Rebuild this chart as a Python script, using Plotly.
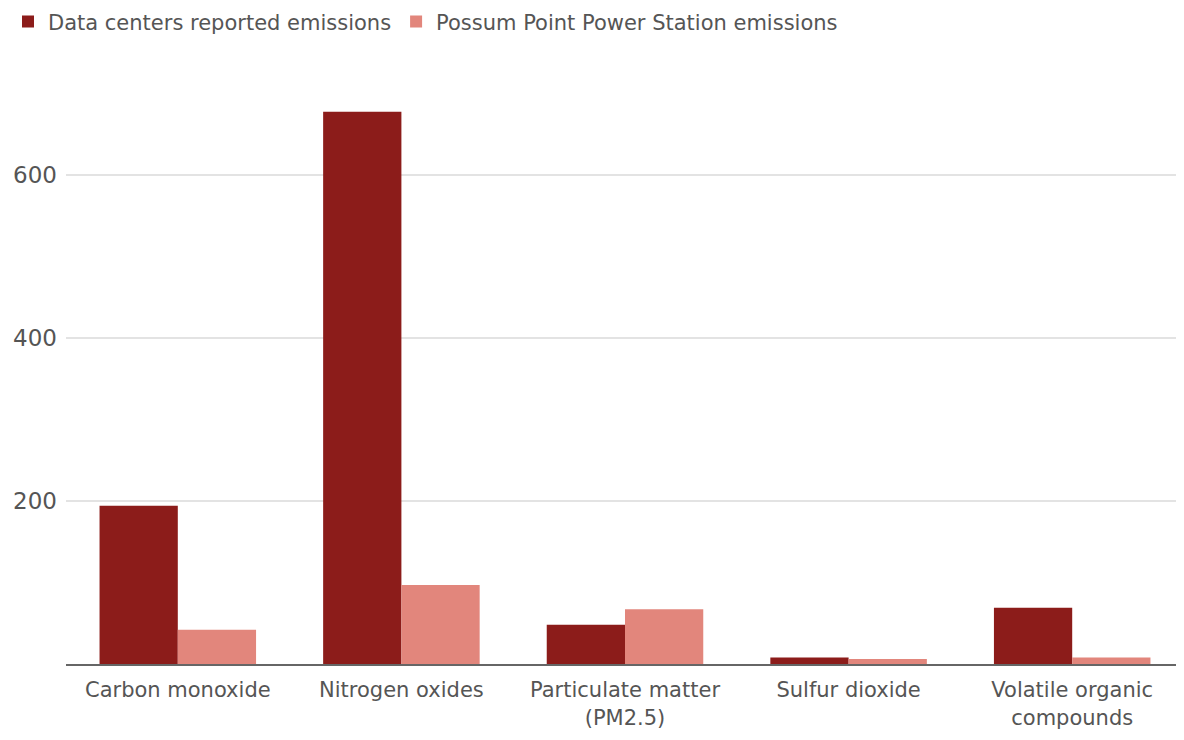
import plotly.graph_objects as go

categories = [
    "Carbon monoxide",
    "Nitrogen oxides",
    "Particulate matter<br>(PM2.5)",
    "Sulfur dioxide",
    "Volatile organic<br>compounds",
]
data_centers = [194, 677, 48, 8, 69]
possum_point = [42, 97, 67, 6, 8]
y_ticks = [200, 400, 600]

COLORS = {
    "dark":  "#8c1c1a",
    "light": "#e2867c",
}
TEXT = "#555555"
FONT = "DejaVu Sans"

fig = go.Figure()
for label, values, color in [
    ("Data centers reported emissions", data_centers, COLORS["dark"]),
    ("Possum Point Power Station emissions", possum_point, COLORS["light"]),
]:
    fig.add_trace(go.Bar(
        name              = label,
        x                 = categories,
        y                 = values,
        marker_color      = color,
        marker_line_width = 0,
    ))

# page body has an 8px margin, so the figure is 8px smaller than the window
fig.update_layout(
    barmode       = "group",
    bargap        = 0.30,
    bargroupgap   = 0,
    width         = 1176,
    height        = 732,
    plot_bgcolor  = "white",
    paper_bgcolor = "white",
    font          = dict(family=FONT, size=21, color=TEXT),
    margin        = dict(l=58, r=0, t=85, b=76),
    legend        = dict(
        orientation = "h",
        xref        = "container", x=0, xanchor="left",
        yref        = "container", y=0.981, yanchor="middle",
        font        = dict(family=FONT, size=21, color=TEXT),
        traceorder  = "normal",
    ),
    xaxis = dict(
        showline   = True,
        linecolor  = "#666666",
        linewidth  = 2,
        ticks      = "",
        ticklabelstandoff = 6,
        tickfont   = dict(family=FONT, size=21, color=TEXT),
        automargin = False,
    ),
    yaxis = dict(
        range      = [0, 700],
        tickvals   = y_ticks,
        showgrid   = True,
        gridcolor  = "#e3e3e3",
        gridwidth  = 1.5,
        zeroline   = False,
        ticks      = "",
        ticklabelstandoff = 8,
        tickfont   = dict(family=FONT, size=23, color=TEXT),
        automargin = False,
    ),
)

fig.write_html("out.html")
